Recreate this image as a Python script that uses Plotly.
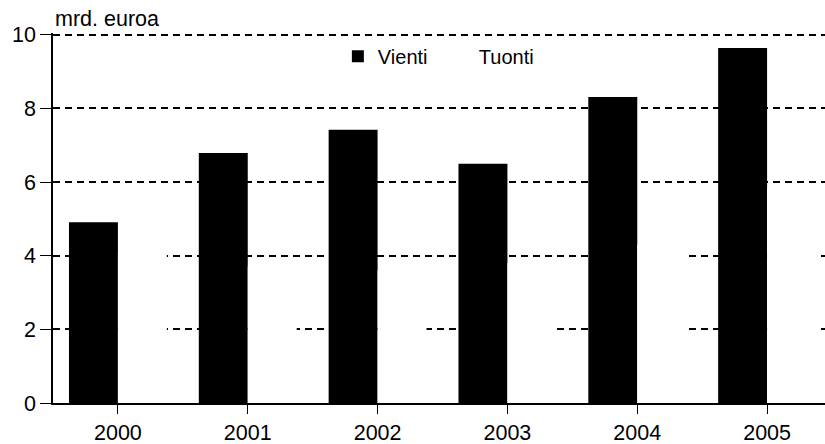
import plotly.graph_objects as go

years = ["2000", "2001", "2002", "2003", "2004", "2005"]
vienti = [4.91, 6.79, 7.42, 6.50, 8.31, 9.64]
tuonti = [4.1, 3.7, 3.6, 3.8, 4.3, 5.85]
y_ticks = [0, 2, 4, 6, 8, 10]

pos = list(range(len(years)))
w = 0.377

fig = go.Figure()
fig.add_trace(go.Bar(
    x=pos, y=vienti, name="Vienti", width=w, offset=-w,
    marker=dict(color="black", line=dict(width=0)),
))
fig.add_trace(go.Bar(
    x=pos, y=tuonti, name="Tuonti", width=w, offset=0,
    marker=dict(color="white", line=dict(width=0)),
))

family = "Liberation Sans, Arial, sans-serif"
font = dict(family=family, size=21.5, color="black")
legend_font = dict(family=family, size=20, color="black")

fig.update_layout(
    width=825, height=444,
    margin=dict(l=53, r=0, t=33, b=41),
    paper_bgcolor="white", plot_bgcolor="white",
    font=font,
    barmode="overlay",
    showlegend=True,
    legend=dict(orientation="h", x=0.369, y=0.99, xanchor="left", yanchor="top",
                bgcolor="rgba(0,0,0,0)", font=legend_font, itemwidth=30,
                entrywidth=56),
    xaxis=dict(
        range=[-0.5, 5.446], tickvals=pos, ticktext=years,
        showgrid=False, showline=True, linecolor="black", linewidth=2,
        ticks="outside", ticklen=9, tickwidth=1.2, tickcolor="black",
        tickfont=font, zeroline=False, fixedrange=True,
    ),
    yaxis=dict(
        range=[0, 10.05], tickvals=y_ticks,
        showgrid=True, gridcolor="black", gridwidth=1.8, griddash="7px,5px",
        showline=True, linecolor="black", linewidth=1.5,
        ticks="outside", ticklen=11, tickwidth=1.2, tickcolor="black",
        tickfont=font, zeroline=False, fixedrange=True,
    ),
    annotations=[dict(
        text="mrd. euroa", xref="paper", yref="paper", x=0, y=1,
        xanchor="left", yanchor="bottom", yshift=0, showarrow=False, font=font,
    )],
)

fig.write_html("out.html")
